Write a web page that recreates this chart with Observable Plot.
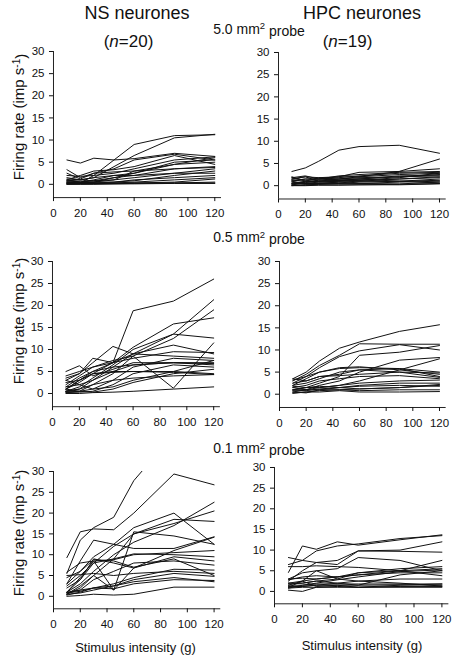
<!DOCTYPE html>
<html>
<head>
<meta charset="utf-8">
<script src="https://cdn.jsdelivr.net/npm/d3@7"></script>
<script src="https://cdn.jsdelivr.net/npm/@observablehq/plot@0.6"></script>
<style>
  html, body { margin: 0; padding: 0; background: #fff; }
  #chart { position: relative; width: 455px; height: 657px; overflow: hidden; background: #fff; }
  #chart svg { position: absolute; }
</style>
</head>
<body>
<div id="chart"></div>
<script>
// ---- Data ----
const intensities = [10, 20, 30, 45, 60, 90, 120];
const xTicks = [0, 20, 40, 60, 80, 100, 120];
const yTicks = [0, 5, 10, 15, 20, 25, 30];
const columnTitles = ["NS neurones", "HPC neurones"];
const columnNs = ["20", "19"];
const probeLabels = ["5.0", "0.5", "0.1"];
const yLabel = "Firing rate (imp s";
const xLabel = "Stimulus intensity (g)";

const nsProbe50 = [
  [0.5, 0.3, 2.0, 5.5, 9.0, 11.0, 11.2],
  [0.8, 1.0, 1.5, 4.0, 6.5, 10.5, 11.3],
  [5.5, 4.8, 5.9, 5.5, 5.8, 7.0, 6.3],
  [3.3, 1.5, 2.5, 3.5, 5.5, 6.8, 5.5],
  [1.0, 2.0, 3.0, 3.3, 4.0, 6.5, 4.5],
  [0.5, 0.5, 0.5, 1.0, 3.0, 4.5, 6.0],
  [1.0, 0.5, 1.0, 2.0, 2.5, 4.5, 5.0],
  [0.3, 0.3, 0.5, 1.5, 2.0, 3.5, 3.8],
  [2.5, 1.2, 2.5, 2.8, 3.0, 3.5, 4.0],
  [0.5, 0.5, 0.8, 1.0, 1.5, 2.5, 3.5],
  [0.2, 0.2, 0.3, 0.5, 0.8, 2.0, 3.0],
  [1.5, 1.0, 1.5, 2.0, 2.0, 2.5, 2.5],
  [0.2, 0.2, 0.2, 0.2, 0.3, 0.5, 1.2],
  [0.0, 0.0, 0.0, 0.1, 0.2, 0.3, 0.5],
  [0.5, 0.4, 0.3, 0.3, 0.3, 0.3, 0.3],
  [0.8, 0.5, 0.5, 0.5, 1.0, 1.5, 2.0],
  [1.2, 1.0, 0.8, 1.5, 2.5, 5.0, 5.5],
  [0.1, 0.1, 0.2, 0.3, 0.5, 1.0, 1.5],
  [2.0, 1.8, 2.0, 2.5, 3.5, 5.5, 6.2],
  [0.0, 0.1, 0.1, 0.1, 0.1, 0.2, 0.2]
];
const hpcProbe50 = [
  [3.2, 4.0, 5.5, 8.0, 8.8, 9.1, 7.3],
  [1.5, 2.0, 1.8, 1.5, 2.0, 3.2, 6.0],
  [1.8, 2.2, 1.5, 2.0, 3.0, 3.2, 3.8],
  [1.0, 1.5, 1.5, 2.2, 2.5, 3.0, 3.2],
  [2.0, 1.0, 1.8, 2.0, 2.0, 2.5, 2.8],
  [0.5, 1.0, 1.2, 1.5, 1.8, 2.0, 2.5],
  [1.5, 2.0, 1.0, 1.2, 1.5, 2.0, 2.2],
  [0.2, 0.5, 0.8, 1.0, 1.2, 1.5, 2.0],
  [1.0, 0.5, 0.5, 0.8, 1.0, 1.5, 1.8],
  [0.0, 0.2, 0.3, 0.5, 0.8, 1.0, 1.5],
  [0.5, 0.5, 0.5, 0.5, 0.5, 0.8, 1.0],
  [0.1, 0.1, 0.2, 0.2, 0.2, 0.3, 0.5],
  [1.2, 1.5, 1.5, 1.2, 1.0, 1.0, 1.2],
  [0.8, 0.3, 0.5, 0.8, 0.5, 0.4, 0.8],
  [1.8, 1.2, 1.5, 1.8, 2.2, 2.8, 3.0],
  [0.0, 0.0, 0.1, 0.1, 0.2, 0.2, 0.4],
  [0.3, 0.8, 1.0, 1.5, 1.5, 1.0, 0.6],
  [1.3, 1.0, 0.8, 1.0, 1.2, 1.8, 2.8],
  [0.6, 0.7, 1.0, 1.2, 1.5, 2.2, 2.4]
];
const nsProbe05 = [
  [1.0, 3.0, 5.0, 7.0, 18.8, 21.0, 26.0],
  [0.5, 1.0, 3.0, 6.0, 9.0, 13.5, 21.3],
  [0.3, 0.5, 2.0, 4.5, 8.5, 12.5, 19.0],
  [1.0, 2.5, 4.5, 7.0, 10.5, 15.8, 17.2],
  [0.5, 1.5, 3.5, 6.5, 10.0, 13.5, 12.6],
  [2.0, 4.0, 6.0, 7.5, 8.5, 1.2, 11.5],
  [3.0, 4.5, 7.0, 10.7, 9.0, 8.5, 8.0],
  [5.0, 6.3, 4.0, 5.5, 7.0, 7.0, 6.5],
  [0.0, 0.0, 0.2, 0.3, 0.5, 1.0, 1.5],
  [0.5, 1.0, 2.0, 3.0, 3.5, 4.0, 4.3],
  [1.0, 3.0, 4.5, 5.0, 5.0, 5.0, 4.5],
  [3.5, 4.5, 8.0, 7.0, 8.0, 9.5, 9.3],
  [0.5, 0.5, 1.0, 3.0, 6.0, 8.0, 7.5],
  [2.5, 3.0, 4.5, 4.8, 5.0, 4.8, 4.3],
  [1.5, 2.0, 3.0, 5.0, 6.5, 7.0, 6.8],
  [0.2, 0.3, 0.5, 2.0, 4.5, 6.5, 6.0],
  [3.0, 2.0, 1.0, 1.5, 3.0, 5.0, 7.5],
  [1.0, 0.5, 0.3, 1.0, 2.5, 4.5, 5.5],
  [4.0, 5.0, 6.0, 7.0, 9.0, 11.0, 9.0],
  [1.5, 3.5, 5.0, 6.0, 6.5, 7.0, 7.0]
];
const hpcProbe05 = [
  [3.5, 5.0, 7.5, 10.4, 11.8, 14.2, 15.7],
  [3.0, 4.5, 6.5, 8.8, 11.4, 11.3, 11.3],
  [2.5, 4.0, 6.0, 8.5, 9.8, 11.2, 10.0],
  [1.0, 1.5, 2.5, 4.0, 8.8, 9.5, 11.0],
  [0.5, 1.0, 2.0, 3.0, 5.0, 7.7, 8.3],
  [1.0, 1.0, 1.5, 2.0, 3.0, 5.5, 8.0],
  [3.2, 4.0, 5.0, 5.8, 6.0, 5.8, 5.0],
  [2.0, 3.5, 5.0, 6.0, 6.2, 5.5, 4.5],
  [3.5, 3.0, 4.0, 4.2, 4.5, 5.0, 4.8],
  [2.5, 3.0, 4.0, 4.5, 5.5, 5.8, 4.0],
  [1.5, 2.0, 3.0, 3.5, 4.0, 4.2, 3.5],
  [1.8, 1.5, 1.5, 2.0, 2.5, 3.0, 3.2],
  [0.5, 0.3, 1.0, 1.5, 2.0, 2.5, 2.5],
  [1.0, 1.5, 1.8, 1.5, 1.2, 1.5, 2.2],
  [0.2, 0.5, 0.8, 1.0, 1.2, 1.5, 2.0],
  [1.5, 1.0, 1.0, 1.0, 0.8, 1.0, 1.0],
  [0.3, 0.5, 0.5, 0.8, 0.5, 0.5, 0.6],
  [2.0, 2.5, 3.5, 5.0, 5.5, 5.0, 3.8],
  [0.8, 0.8, 1.2, 1.5, 1.8, 2.0, 1.8]
];
const nsProbe01 = [
  [9.3, 15.5, 16.2, 16.0, 20.0, 29.4, 26.8],
  [5.5, 13.5, 16.5, 19.0, 27.8, 39.0, 45.0],
  [1.0, 3.0, 6.0, 10.0, 13.0, 17.0, 22.6],
  [0.5, 2.0, 5.0, 9.0, 15.0, 17.5, 20.5],
  [3.0, 6.0, 9.5, 12.5, 16.5, 20.0, 12.5],
  [1.0, 4.0, 8.0, 12.0, 15.0, 18.5, 18.0],
  [3.0, 8.5, 13.5, 12.5, 11.5, 11.5, 14.3],
  [1.0, 4.5, 8.5, 1.5, 15.5, 14.5, 12.5],
  [0.5, 2.5, 5.0, 1.5, 6.8, 11.0, 14.2],
  [5.8, 8.0, 8.5, 8.8, 10.0, 10.5, 11.0],
  [2.5, 5.0, 8.0, 9.0, 10.2, 10.0, 9.5],
  [4.5, 6.0, 8.8, 8.5, 7.0, 9.0, 5.0],
  [2.0, 4.0, 9.0, 8.0, 6.8, 9.5, 8.5],
  [0.8, 1.5, 4.0, 6.0, 8.0, 8.5, 7.5],
  [0.3, 1.0, 2.0, 3.0, 4.5, 6.5, 6.3],
  [0.5, 0.8, 1.5, 2.5, 4.0, 5.5, 4.8],
  [1.0, 1.5, 2.0, 2.5, 3.5, 4.5, 3.5],
  [0.0, 0.2, 0.5, 0.3, 0.5, 2.2, 2.2],
  [5.0, 5.2, 5.5, 5.0, 5.5, 6.0, 5.5],
  [0.8, 1.2, 2.0, 1.8, 3.0, 4.0, 3.8]
];
const hpcProbe01 = [
  [4.6, 11.0, 10.2, 12.0, 11.2, 12.5, 13.7],
  [6.5, 7.5, 9.8, 11.0, 11.5, 12.8, 13.5],
  [2.5, 5.0, 7.0, 7.5, 9.8, 10.0, 12.0],
  [8.2, 7.5, 7.0, 6.5, 9.8, 9.7, 9.5],
  [3.0, 4.5, 5.0, 5.5, 8.2, 7.5, 5.0],
  [6.0, 6.0, 6.2, 6.0, 5.8, 5.0, 3.8],
  [2.8, 3.5, 3.8, 3.5, 4.0, 5.0, 7.5],
  [2.0, 2.5, 5.0, 3.0, 4.5, 5.5, 6.0],
  [1.5, 2.5, 3.0, 3.5, 4.5, 5.0, 5.5],
  [0.8, 1.5, 2.0, 2.8, 3.5, 4.8, 5.2],
  [2.0, 2.0, 2.5, 2.0, 1.5, 4.0, 5.0],
  [1.5, 1.5, 1.8, 1.8, 1.8, 1.8, 1.8],
  [1.2, 1.2, 1.5, 1.5, 1.5, 1.6, 1.5],
  [0.3, 0.0, 1.0, 1.2, 1.0, 1.2, 1.2],
  [1.0, 2.5, 1.2, 1.5, 1.0, 1.0, 1.0],
  [0.8, 1.0, 1.0, 1.0, 1.0, 1.5, 1.8],
  [1.8, 2.0, 2.5, 3.0, 2.5, 2.0, 1.3],
  [3.0, 3.2, 3.0, 3.5, 4.0, 4.5, 4.5],
  [1.0, 1.2, 1.5, 2.0, 2.5, 3.0, 3.0]
];

// ---- Layout (pixel geometry of each panel) ----
const FONT = "'Liberation Sans', Arial, Helvetica, sans-serif";
const panels = [
  {series: nsProbe50,  x0: 52.7,  x120: 214.0, top: 51.2,  bottom: 197.3},
  {series: hpcProbe50, x0: 278.3, x120: 439.3, top: 51.7,  bottom: 198.2},
  {series: nsProbe05,  x0: 52.3,  x120: 213.5, top: 261.0, bottom: 406.2},
  {series: hpcProbe05, x0: 279.0, x120: 439.0, top: 261.0, bottom: 407.0},
  {series: nsProbe01,  x0: 52.7,  x120: 213.3, top: 471.0, bottom: 608.3},
  {series: hpcProbe01, x0: 274.3, x120: 441.7, top: 466.7, bottom: 603.0}
];
const ML = 40, MR = 8, MT = 8, MB = 30;
const chart = document.getElementById("chart");

function tidy(series) {
  const rows = [];
  series.forEach((vals, id) => vals.forEach((v, i) => rows.push({id, x: intensities[i], y: v})));
  return rows;
}

panels.forEach(p => {
  const xMax = 125;
  const fw = (p.x120 - p.x0) * xMax / 120;
  const fh = p.bottom - p.top;
  const svg = Plot.plot({
    width: ML + fw + MR,
    height: MT + fh + MB,
    marginLeft: ML, marginRight: MR, marginTop: MT, marginBottom: MB,
    style: {fontFamily: FONT, fontSize: "11.5px", color: "#111", background: "transparent", overflow: "visible"},
    x: {domain: [0, xMax]},
    y: {domain: [-3, 30]},
    marks: [
      Plot.line(tidy(p.series), {x: "x", y: "y", z: "id", stroke: "#111", strokeWidth: 1, clip: true}),
      Plot.ruleX([0], {stroke: "#222", strokeWidth: 1}),
      Plot.ruleY([-3], {stroke: "#222", strokeWidth: 1}),
      Plot.axisY({ticks: yTicks, tickSize: 4, tickPadding: 5, label: null, anchor: "left"}),
      Plot.axisX({ticks: xTicks, tickSize: 4, tickPadding: 7, label: null, anchor: "bottom"})
    ]
  });
  svg.style.left = (p.x0 - ML) + "px";
  svg.style.top = (p.top - MT) + "px";
  chart.appendChild(svg);
});

// ---- Text overlay ----
const ov = d3.select(chart).append("svg")
  .attr("width", 455).attr("height", 657)
  .style("left", "0px").style("top", "0px")
  .style("font-family", FONT).style("fill", "#111");

const colCenters = [137, 362];
const nCenters = [128.5, 347.5];
columnTitles.forEach((t, i) => {
  ov.append("text").attr("x", colCenters[i]).attr("y", 18.5)
    .attr("text-anchor", "middle").style("font-size", "18px").text(t);
  const n = ov.append("text").attr("x", nCenters[i]).attr("y", 46.5)
    .attr("text-anchor", "middle").style("font-size", "17px");
  n.append("tspan").text("(");
  n.append("tspan").style("font-style", "italic").text("n");
  n.append("tspan").text("=" + columnNs[i] + ")");
});

const probeBaselines = [33.5, 242, 453];
probeLabels.forEach((lab, i) => {
  const t = ov.append("text").attr("x", 259).attr("y", probeBaselines[i])
    .attr("text-anchor", "middle").style("font-size", "14px");
  t.append("tspan").text(lab + " mm");
  t.append("tspan").attr("dy", "-0.45em").style("font-size", "9.5px").text("2");
  t.append("tspan").attr("dy", "0.45em").text(" probe");
});

[117, 321, 533].forEach(cy => {
  const t = ov.append("text")
    .attr("transform", `translate(24,${cy}) rotate(-90)`)
    .attr("text-anchor", "middle").style("font-size", "15px");
  t.append("tspan").text(yLabel);
  t.append("tspan").attr("dy", "-0.45em").style("font-size", "10px").text("-1");
  t.append("tspan").attr("dy", "0.45em").text(")");
});

[[135.5, 651.5], [362, 650]].forEach(([cx, by]) => {
  ov.append("text").attr("x", cx).attr("y", by)
    .attr("text-anchor", "middle").style("font-size", "13px").text(xLabel);
});
</script>
</body>
</html>
